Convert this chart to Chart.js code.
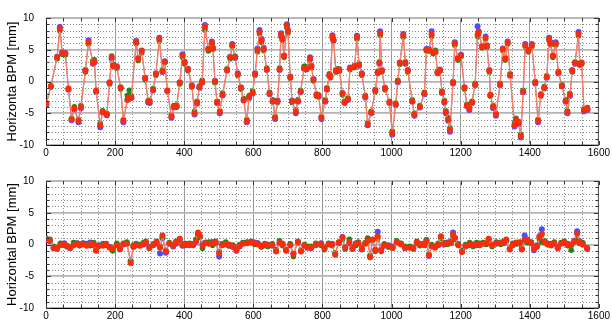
<!DOCTYPE html>
<html>
<head>
<meta charset="utf-8">
<script src="https://cdn.jsdelivr.net/npm/chart.js@4/dist/chart.umd.min.js"></script>
<style>
  html, body { margin: 0; padding: 0; background: #fff; }
  #wrap { position: relative; width: 612px; height: 326px; overflow: hidden; }
  canvas { position: absolute; left: 0; }
  #c1 { top: 0; }
  #c2 { top: 163px; }
</style>
</head>
<body>
<div id="wrap">
  <canvas id="c1" width="612" height="163"></canvas>
  <canvas id="c2" width="612" height="163"></canvas>
</div>
<script>
// ---------- DATA ----------
const xTickLabels = [0, 200, 400, 600, 800, 1000, 1200, 1400, 1600];
const yTickLabels = [-10, -5, 0, 5, 10];
const topTitle = 'Horizonta BPM [mm]';
const bottomTitle = 'Horizontal BPM [mm]';

const topPos = [
  1,14,32,40,47,56,65,74,82,94,
  101,114,123,136,140,145,157,164,176,184,
  190,194,205,216,224,236,241,247,261,267,
  277,287,296,300,310,318,328,337,344,351,
  363,370,378,387,395,401,411,422,430,437,
  444,452,460,470,480,483,489,495,503,511,
  524,533,539,547,555,564,572,581,588,598,
  605,612,618,624,630,639,647,656,663,670,
  676,680,684,689,697,700,707,712,723,729,
  737,747,754,764,768,774,783,789,797,808,
  813,820,823,829,832,839,844,849,858,864,
  874,880,893,900,906,914,924,931,941,953,
  960,965,967,972,981,994,1002,1012,1018,1024,
  1034,1040,1047,1060,1066,1082,1095,1101,1108,1116,
  1120,1127,1133,1140,1146,1153,1157,1164,1169,1178,
  1183,1192,1201,1211,1218,1225,1233,1242,1249,1252,
  1262,1272,1276,1283,1286,1294,1302,1314,1322,1329,
  1336,1343,1356,1360,1368,1374,1381,1387,1396,1406,
  1416,1424,1432,1442,1449,1456,1460,1467,1475,1483,
  1493,1504,1509,1516,1523,1531,1541,1545,1550,1557,
  1567
];
const topRed = [
  -3.5,-0.7,3.8,8.3,4.5,4.4,-1.1,-6.0,-4.3,-6.2,
  -4.0,1.7,6.2,2.9,3.2,-1.4,-6.9,-4.8,-5.2,-0.2,
  3.8,2.5,2.3,-1.0,-6.2,-2.9,-2.5,-2.5,6.2,3.6,
  4.8,0.5,-3.1,-3.2,-1.3,1.2,6.7,1.6,3.1,-1.4,
  -5.5,-4.0,-3.9,-0.2,4.1,3.0,1.9,-0.7,-5.0,-3.3,
  -0.9,-0.1,8.6,5.1,6.1,5.2,0.0,-3.3,-4.8,-2.1,
  1.8,3.8,5.7,3.8,1.2,-1.0,-2.9,-6.2,-2.4,-1.8,
  1.2,5.0,7.8,6.5,5.1,1.9,-1.9,-3.1,-5.7,-3.1,
  1.9,7.4,6.7,4.0,8.8,7.9,0.7,-3.1,-4.8,-3.1,
  -1.6,2.1,2.0,3.6,2.4,0.3,-2.1,-2.3,-5.7,-3.1,
  -1.2,1.0,0.8,7.1,6.5,1.7,1.8,1.8,-1.9,-3.3,
  -2.8,2.1,2.4,7.0,2.6,1.2,-2.4,-6.7,-4.9,-1.4,
  1.4,2.9,7.6,1.7,-1.1,-3.3,-8.1,-3.6,0.0,2.9,
  7.3,2.9,1.7,-3.1,-5.2,-4.0,-1.9,5.0,5.0,7.4,
  4.6,4.7,1.4,1.8,-1.7,-3.2,-4.8,-6.0,-7.6,-0.2,
  6.0,3.6,4.1,-1.0,-3.8,-4.3,-3.3,-0.5,7.4,7.8,
  5.5,6.9,5.6,1.7,-2.1,-4.0,-5.2,-0.5,5.1,3.6,
  6.1,1.0,-6.9,-6.0,-6.5,-8.6,-1.6,5.7,4.9,5.7,
  -0.2,-6.2,-2.1,-1.0,0.7,6.7,6.0,4.0,6.0,1.4,
  -0.7,-3.1,-4.8,-2.1,1.7,2.9,7.5,2.7,2.9,-4.5,
  -4.3
];
const topGreen = [
  -3.3,-0.9,3.6,8.0,4.3,4.2,-1.2,-5.8,-4.0,-6.0,
  -3.8,1.5,5.9,3.3,3.4,-1.5,-6.6,-4.6,-5.0,-0.4,
  4.0,2.7,2.1,-1.2,-6.0,-2.2,-1.4,-2.3,6.0,3.3,
  4.5,0.3,-3.0,-3.0,-1.1,1.0,6.4,1.8,3.0,-1.5,
  -5.3,-3.8,-3.7,-0.4,3.8,2.8,1.7,-0.9,-4.7,-3.1,
  -0.7,0.2,8.1,4.8,5.9,5.4,-0.2,-3.1,-4.6,-1.8,
  2.0,3.6,5.5,4.0,1.0,-1.2,-2.7,-6.0,-2.2,-1.5,
  1.0,4.7,7.5,6.2,4.9,2.1,-1.7,-2.9,-5.5,-3.3,
  2.1,7.1,6.5,3.8,8.5,7.6,0.5,-3.3,-4.5,-2.9,
  -1.4,2.4,2.3,3.4,2.2,0.1,-2.3,-2.1,-5.5,-2.9,
  -1.0,1.2,0.6,6.8,6.7,1.5,2.0,1.6,-2.1,-3.1,
  -2.6,1.9,2.2,6.7,2.8,1.0,-2.2,-6.5,-4.7,-1.6,
  1.6,3.1,7.3,1.5,-1.3,-3.1,-7.8,-3.4,0.2,2.7,
  7.0,3.1,1.5,-2.9,-5.0,-3.8,-1.7,4.8,4.8,7.1,
  4.4,4.9,1.6,1.6,-1.5,-3.0,-4.6,-5.7,-7.3,0.0,
  5.7,3.4,3.9,-1.2,-3.6,-4.1,-3.1,-0.3,7.1,7.5,
  5.3,6.7,5.4,1.5,-2.3,-3.8,-5.0,-0.3,4.9,3.4,
  5.9,1.2,-6.6,-5.8,-6.3,-8.3,-1.4,5.5,4.7,5.5,
  0.0,-6.0,-2.3,-0.8,0.9,6.5,5.8,3.8,5.7,1.6,
  -0.5,-2.9,-4.6,-1.9,1.5,3.1,7.2,2.9,2.7,-4.3,
  -4.1
];
const topBlue = [
  -3.7,-0.8,3.9,8.6,4.6,4.5,-1.3,-6.1,-4.4,-6.4,
  -4.2,1.8,6.5,2.8,3.0,-1.6,-7.2,-4.9,-5.3,-0.1,
  3.6,2.4,2.4,-0.9,-6.4,-2.8,-2.3,-2.6,6.4,3.7,
  4.9,0.6,-3.3,-3.4,-1.4,1.3,6.9,1.5,3.2,-1.5,
  -5.7,-4.1,-4.0,-0.1,4.3,3.1,2.0,-0.6,-5.2,-3.5,
  -1.0,-0.2,8.9,5.2,6.3,5.1,0.1,-3.4,-5.0,-2.2,
  1.7,3.9,5.9,3.7,1.3,-0.9,-3.0,-6.4,-2.6,-1.9,
  1.3,5.2,8.1,6.7,5.3,1.8,-2.0,-3.2,-5.9,-3.0,
  1.8,7.6,6.9,4.1,9.0,8.1,0.8,-3.0,-5.0,-3.2,
  -1.7,2.0,1.9,3.8,2.5,0.4,-2.0,-2.4,-5.9,-3.2,
  -1.3,0.9,0.9,7.3,6.4,1.8,1.7,1.9,-1.8,-3.4,
  -2.9,2.2,2.5,7.2,2.5,1.3,-2.5,-6.9,-5.0,-1.3,
  1.3,2.8,7.9,1.8,-1.0,-3.4,-8.4,-3.7,-0.1,3.0,
  7.5,2.8,1.8,-3.2,-5.4,-4.1,-2.0,5.1,5.1,7.9,
  4.7,4.6,1.3,1.9,-1.8,-3.3,-5.0,-6.2,-7.9,-0.3,
  6.2,3.7,4.2,-0.9,-3.9,-4.5,-3.4,-0.6,8.7,7.9,
  5.6,7.1,5.7,1.8,-2.2,-4.2,-5.4,-0.6,5.2,3.7,
  6.3,0.9,-7.1,-6.2,-6.7,-8.8,-1.7,5.9,5.0,5.9,
  -0.3,-6.4,-2.0,-1.1,0.6,6.9,6.2,4.1,6.2,1.3,
  -0.8,-3.2,-5.0,-2.3,1.8,2.8,7.8,2.6,3.0,-4.7,
  -4.5
];

const botPos = [
  0,11,22,32,42,53,61,70,80,90,
  97,107,118,128,138,145,152,165,174,184,
  193,205,214,224,234,245,253,261,272,282,
  289,299,311,320,330,337,347,357,368,376,
  387,395,405,416,426,434,440,445,453,462,
  472,482,491,501,510,520,530,541,551,560,
  570,582,594,604,613,623,633,642,655,666,
  676,685,695,707,716,729,738,748,757,767,
  781,796,806,818,828,837,847,858,866,878,
  887,897,904,914,924,931,938,945,953,960,
  970,979,991,1003,1015,1027,1039,1053,1063,1073,
  1082,1095,1101,1108,1116,1126,1135,1143,1152,1162,
  1172,1178,1183,1193,1204,1214,1226,1236,1246,1255,
  1265,1274,1281,1291,1303,1316,1325,1332,1342,1351,
  1361,1371,1377,1385,1393,1404,1412,1421,1428,1435,
  1443,1452,1462,1471,1481,1491,1500,1510,1520,1529,
  1537,1544,1553,1566
];
const botRed = [
  0.8,0.6,-0.5,-0.7,-0.1,0.0,-0.2,-0.5,-0.1,0.1,
  -0.1,0.0,-0.2,0.1,0.0,-1.0,-0.2,-0.2,0.0,-0.5,
  -0.6,-0.1,-0.7,0.1,0.1,-2.9,-0.3,-0.1,-0.2,0.1,
  0.3,-0.5,-0.1,0.4,-0.5,1.4,-1.1,0.2,-0.2,0.3,
  0.9,-0.1,0.0,0.0,-0.1,0.5,1.9,1.4,-0.2,0.2,
  0.1,0.2,0.3,-1.4,-0.1,0.1,0.0,-0.3,-0.9,-0.2,
  0.1,0.2,0.3,0.2,0.0,-0.3,0.0,-0.1,-0.1,-1.1,
  0.3,0.0,-1.0,-0.1,-1.5,0.4,-1.1,-0.2,-0.5,-0.5,
  0.0,0.1,-0.6,0.0,0.0,-1.6,0.3,1.1,-0.5,0.4,
  -0.6,0.1,0.2,-0.7,0.1,0.6,-2.0,0.8,-0.9,1.3,
  -0.9,-0.1,-0.2,-0.5,0.4,0.0,-0.5,-0.5,-0.5,0.3,
  0.0,0.0,0.5,-1.7,-0.2,-0.5,0.0,1.3,0.1,0.2,
  0.4,1.6,1.1,-0.1,-1.2,-0.2,0.0,-0.1,0.0,0.0,
  0.1,0.2,0.9,-0.1,0.2,0.2,0.3,0.8,-0.8,0.0,
  0.3,0.2,-0.8,0.8,0.6,0.2,-0.7,-0.2,1.1,1.6,
  0.4,0.0,0.0,0.2,-0.6,0.1,0.3,0.0,-0.1,0.5,
  1.7,0.4,0.0,-0.6
];
const botGreen = [
  1.0,0.8,-0.3,-0.6,0.2,-0.1,-0.3,-0.4,0.3,0.2,
  -0.2,0.2,-0.1,-0.2,0.3,-0.9,-0.3,0.0,-0.1,-0.4,
  -1.0,0.2,-0.6,0.2,0.4,-2.6,-0.1,0.0,0.0,0.3,
  0.5,-0.6,0.1,0.5,-0.3,1.1,-0.9,0.3,0.0,0.5,
  0.6,0.1,-0.1,0.2,0.1,0.8,1.5,1.1,-0.6,0.3,
  0.4,-0.1,0.5,-1.1,0.1,0.4,-0.2,-0.1,-0.7,0.0,
  0.3,0.4,0.5,0.0,0.2,-0.4,-0.2,-0.3,0.1,-0.8,
  0.6,-0.2,-0.8,0.1,-1.9,0.5,-0.9,0.0,-0.3,-0.3,
  0.2,-0.1,-0.8,0.2,-0.2,-1.3,0.4,0.8,-0.7,0.8,
  -0.4,-0.1,0.4,-0.5,0.3,1.0,-1.7,0.6,-1.1,0.9,
  -1.1,0.1,-0.4,-0.6,0.6,0.2,-0.3,-0.3,-0.7,0.5,
  -0.2,0.2,0.7,-1.5,0.0,-0.3,0.2,1.0,0.3,0.0,
  0.2,1.2,0.8,0.1,-0.9,0.0,0.3,-0.3,0.3,0.2,
  0.3,0.0,0.7,-0.3,0.4,0.0,0.5,0.6,-0.6,0.2,
  0.1,0.4,-0.6,0.5,0.3,0.4,-0.5,-0.4,0.8,0.4,
  0.6,0.2,-0.2,0.4,-0.4,0.3,0.5,-0.2,-0.9,0.4,
  0.8,0.2,0.3,-0.5
];
const botBlue = [
  0.7,0.5,-0.6,-0.5,0.1,0.2,-0.3,-0.6,0.0,0.2,
  0.0,0.2,0.1,0.3,-0.1,-0.9,-0.1,0.1,0.1,-0.4,
  -0.7,0.0,-0.8,0.0,0.2,-2.6,-0.4,0.1,-0.1,0.0,
  0.2,-0.4,0.0,0.2,-1.4,1.0,-1.3,0.1,-0.3,0.1,
  0.7,-0.2,0.1,-0.1,0.0,0.4,1.7,1.2,0.1,0.3,
  0.2,0.4,0.2,-1.9,0.0,0.0,-0.2,-0.4,-1.0,-0.3,
  0.2,0.3,0.4,0.3,0.2,-0.2,0.1,0.0,-0.2,-1.0,
  0.2,0.1,-0.9,0.0,-1.4,0.3,-1.0,-0.1,-0.4,-0.6,
  -0.1,0.2,-0.5,0.1,0.1,-1.5,0.2,1.2,-0.4,0.2,
  -0.7,0.2,0.1,-0.8,0.2,0.5,-1.9,0.7,-0.8,2.0,
  -0.8,-0.2,-0.1,-0.3,0.3,0.1,-0.6,-0.4,-0.6,0.2,
  0.1,-0.1,0.7,-1.8,-0.3,-0.4,-0.1,1.2,0.0,0.3,
  0.5,1.9,1.0,0.0,-1.1,-0.3,-0.1,0.0,-0.1,-0.1,
  0.2,0.1,0.8,0.0,0.1,0.3,0.2,0.6,-0.7,-0.1,
  0.2,0.1,-0.7,1.4,0.8,0.3,-0.9,-0.1,1.3,2.4,
  0.3,0.1,0.1,0.1,-0.5,0.2,0.2,0.1,0.0,0.6,
  2.1,0.5,0.1,-0.7
];

// ---------- STYLE ----------
const FONT = '"Liberation Sans", Arial, Helvetica, sans-serif';
const seriesStyle = {
  blue:  { point: '#4d4dff', line: 'rgba(80,80,255,0.45)', w: 1.0, r: 3.0 },
  green: { point: '#1a8a1a', line: 'rgba(30,140,30,0.45)', w: 1.0, r: 2.8 },
  red:   { point: '#ff2a0a', line: '#ff7a66', w: 1.3, r: 3.0 }
};

function makeDataset(pos, vals, key) {
  const s = seriesStyle[key];
  return {
    label: key,
    data: pos.map((x, i) => ({ x: x, y: vals[i] })),
    showLine: true,
    borderColor: s.line,
    backgroundColor: s.point,
    borderWidth: s.w,
    pointRadius: s.r,
    pointBorderWidth: 0,
    pointBorderColor: s.point,
    pointBackgroundColor: s.point
  };
}

// dotted minor grid (under the data) + frame and inner ticks (on top)
const framePlugin = {
  id: 'frame',
  beforeDatasetsDraw(chart) {
    const { ctx, chartArea: a, scales } = chart;
    ctx.save();
    ctx.strokeStyle = '#8a8a8a';
    ctx.lineWidth = 1;
    ctx.setLineDash([1, 2]);
    scales.x.ticks.forEach(t => {
      if (t.value % 200 === 0) return;
      const px = Math.round(scales.x.getPixelForValue(t.value)) + 0.5;
      ctx.beginPath(); ctx.moveTo(px, a.top); ctx.lineTo(px, a.bottom); ctx.stroke();
    });
    scales.y.ticks.forEach(t => {
      if (t.value % 5 === 0) return;
      const py = Math.round(scales.y.getPixelForValue(t.value)) + 0.5;
      ctx.beginPath(); ctx.moveTo(a.left, py); ctx.lineTo(a.right, py); ctx.stroke();
    });
    ctx.setLineDash([]);
    ctx.restore();
  },
  afterDraw(chart) {
    const { ctx, chartArea: a, scales } = chart;
    ctx.save();
    ctx.setLineDash([]);
    ctx.strokeStyle = '#b8b8b8';
    ctx.lineWidth = 2;
    ctx.beginPath(); ctx.moveTo(a.left, a.top); ctx.lineTo(a.right, a.top); ctx.stroke();
    ctx.strokeStyle = '#555';
    ctx.lineWidth = 1;
    ctx.beginPath(); ctx.moveTo(a.right - 0.5, a.top); ctx.lineTo(a.right - 0.5, a.bottom); ctx.stroke();
    ctx.strokeStyle = '#333';
    scales.x.ticks.forEach(t => {
      const px = Math.round(scales.x.getPixelForValue(t.value)) + 0.5;
      const len = (t.value % 200 === 0) ? 4 : 3;
      ctx.beginPath();
      ctx.moveTo(px, a.bottom); ctx.lineTo(px, a.bottom - len);
      ctx.moveTo(px, a.top); ctx.lineTo(px, a.top + len);
      ctx.stroke();
    });
    scales.y.ticks.forEach(t => {
      const py = Math.round(scales.y.getPixelForValue(t.value)) + 0.5;
      const len = (t.value % 5 === 0) ? 5 : 3;
      ctx.beginPath();
      ctx.moveTo(a.left, py); ctx.lineTo(a.left + len, py);
      ctx.moveTo(a.right, py); ctx.lineTo(a.right - len, py);
      ctx.stroke();
    });
    ctx.restore();
  }
};

function makeChart(canvasId, pos, red, green, blue, title, padTop, xAxisH) {
  return new Chart(document.getElementById(canvasId), {
    type: 'scatter',
    data: {
      datasets: [
        makeDataset(pos, red, 'red'),
        makeDataset(pos, green, 'green'),
        makeDataset(pos, blue, 'blue')
      ]
    },
    options: {
      responsive: false,
      animation: false,
      devicePixelRatio: 1,
      layout: { padding: { top: padTop, right: 11, left: 0, bottom: 0 } },
      plugins: { legend: { display: false }, tooltip: { enabled: false } },
      scales: {
        x: {
          type: 'linear',
          min: xTickLabels[0],
          max: xTickLabels[xTickLabels.length - 1],
          afterFit: s => { s.height = xAxisH; },
          ticks: {
            stepSize: 50,
            autoSkip: false,
            maxRotation: 0,
            padding: 2,
            color: '#000',
            font: { family: FONT, size: 10 },
            callback: v => xTickLabels.includes(v) ? String(v) : ''
          },
          grid: {
            drawTicks: false,
            color: c => (c.tick && c.tick.value % 200 === 0) ? '#9a9a9a' : 'rgba(0,0,0,0)',
            lineWidth: 1
          },
          border: { color: '#000', width: 1 }
        },
        y: {
          type: 'linear',
          min: yTickLabels[0],
          max: yTickLabels[yTickLabels.length - 1],
          afterFit: s => { s.width = 46; },
          ticks: {
            stepSize: 1,
            autoSkip: false,
            padding: 12,
            color: '#000',
            font: { family: FONT, size: 10 },
            callback: v => yTickLabels.includes(v) ? String(v) : ''
          },
          grid: {
            drawTicks: false,
            color: c => (c.tick && c.tick.value % 5 === 0) ? '#b4b4b4' : 'rgba(0,0,0,0)',
            lineWidth: c => (c.tick && c.tick.value % 5 === 0) ? 1.8 : 1
          },
          border: { color: '#000', width: 1 },
          title: {
            display: true,
            text: title,
            color: '#000',
            font: { family: FONT, size: 13 },
            padding: { top: 5, bottom: 0 }
          }
        }
      }
    },
    plugins: [framePlugin]
  });
}

makeChart('c1', topPos, topRed, topGreen, topBlue, topTitle, 10, 13);
makeChart('c2', botPos, botRed, botGreen, botBlue, bottomTitle, 7, 16);
</script>
</body>
</html>
